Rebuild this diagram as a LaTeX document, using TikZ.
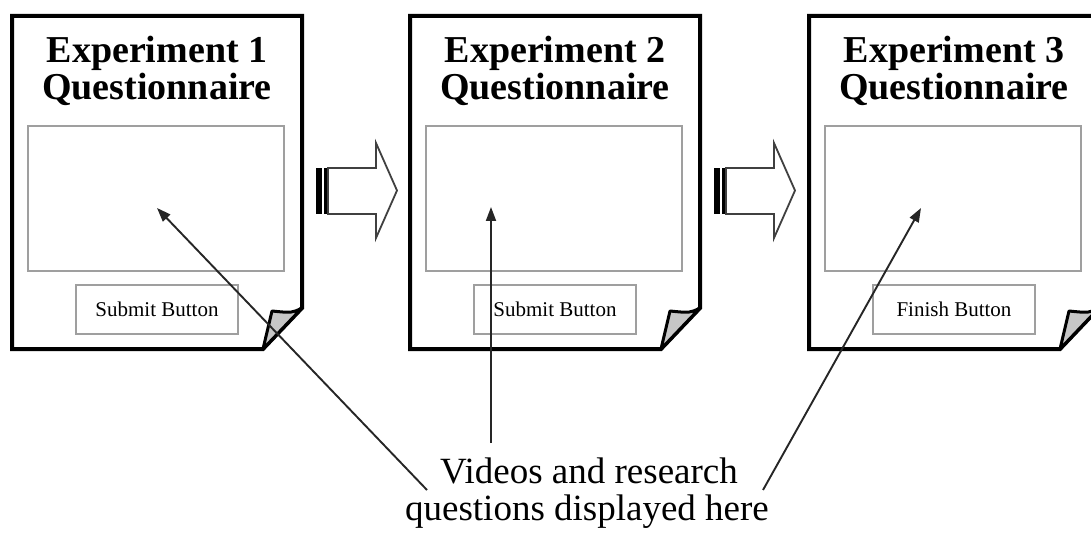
\documentclass[tikz,border=0pt]{standalone}
\usepackage{fontspec}
\setmainfont{Liberation Serif}
\usetikzlibrary{arrows.meta}
\begin{document}
\begin{tikzpicture}[x=1pt,y=-1pt,
  page/.style={draw=black,line width=4pt,line join=miter,fill=white},
  flap/.style={draw=black,line width=3pt,line join=round,fill=gray!45},
  screen/.style={draw=gray!75,line width=1.5pt,minimum width=256pt,minimum height=145pt,inner sep=0pt},
  button/.style={draw=gray!75,line width=1.5pt,minimum width=162pt,minimum height=49pt,inner sep=0pt,font=\fontsize{21}{24}\selectfont},
  title/.style={font=\fontsize{38}{40}\bfseries\selectfont,anchor=base,inner sep=0pt},
  caption/.style={font=\fontsize{37}{37}\selectfont,anchor=base,inner sep=0pt},
  pointer/.style={draw=black!85,line width=1.9pt,-{Triangle[length=14pt,width=10pt]}},
  blockarrow/.style={draw=black!75,line width=1.8pt,fill=white,line join=miter}
]
\useasboundingbox (0,0) rectangle (1091,537);

% three questionnaire pages with a curled corner
\foreach \i/\dx/\btn in {1/0/Submit Button, 2/398/Submit Button, 3/797/Finish Button} {
  \begin{scope}[xshift=\dx pt]
    \draw[page] (12,16) -- (302,16) -- (302,308) -- (263,349) -- (12,349) -- cycle;
    \draw[flap] (302,308) .. controls (292,313) .. (272,311) -- (263,349) -- cycle;
    \node[title] (t\i) at (157,63) {Experiment \i};
    \node[title] (q\i) at (157,100) {Questionnaire};
    \node[screen] (s\i) at (156,198.5) {};
    \node[button] (b\i) at (157,309.5) {\btn};
  \end{scope}
}

% striped block arrows between the pages
\foreach \dx in {0,398} {
  \begin{scope}[xshift=\dx pt]
    \fill[black] (316,168) rectangle (322,214);
    \fill[black] (324,168) rectangle (326.5,214);
    \draw[blockarrow] (328,168) -- (376,168) -- (376,143) -- (397,190.5)
      -- (376,238) -- (376,214) -- (328,214) -- cycle;
  \end{scope}
}

% caption and pointers into the video areas
\node[caption] (cap1) at (589,483) {Videos and research};
\node[caption] (cap2) at (587,520) {questions displayed here};

\coordinate (from1) at (427,490);
\coordinate (from2) at (491,443);
\coordinate (from3) at (763,490);
\coordinate (tip1) at (157,208);
\coordinate (tip2) at (491,207);
\coordinate (tip3) at (921,208);

\draw[pointer] (from1) -- (tip1);
\draw[pointer] (from2) -- (tip2);
\draw[pointer] (from3) -- (tip3);
\end{tikzpicture}
\end{document}
